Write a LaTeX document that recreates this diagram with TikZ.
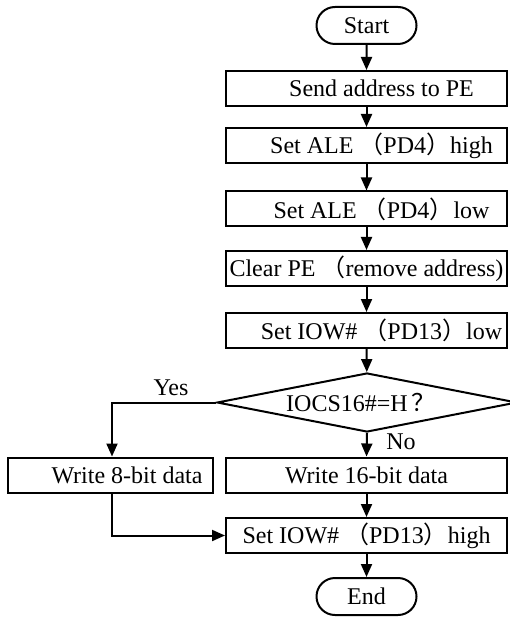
\documentclass[tikz,border=0pt]{standalone}
\usepackage{fontspec}
\setmainfont{Liberation Serif}
\newfontfamily\cjkfont{Noto Sans CJK SC}
\usetikzlibrary{arrows.meta,shapes.geometric,shapes.misc}
\newcommand{\lpar}{{\cjkfont （}}
\newcommand{\rpar}{{\cjkfont ）}}
\newcommand{\qmark}{{\cjkfont ？}}
\begin{document}
\begin{tikzpicture}[x=1pt,y=-1pt,
  line width=2pt,
  every node/.style={font=\fontsize{24}{28}\selectfont},
  proc/.style={draw, rectangle, minimum height=35pt, inner sep=0pt},
  term/.style={draw, rounded rectangle, minimum width=100pt, minimum height=37pt, inner sep=0pt},
  dec/.style={draw, diamond, aspect=5, minimum width=300pt, minimum height=59pt, inner sep=0pt},
  lbl/.style={inner sep=0pt},
  arr/.style={-{Triangle[length=13pt,width=11pt]}}]
\useasboundingbox (0,0) rectangle (510,617);

\node[term] (start) at (366.5,25.5) {Start};
\node[proc, minimum width=281pt] (send) at (366.5,88.5) {\hspace*{30pt}Send address to PE};
\node[proc, minimum width=281pt] (aleh) at (366.5,145.5) {\hspace*{30pt}Set ALE \lpar PD4\rpar high};
\node[proc, minimum width=281pt] (alel) at (366.5,209) {\hspace*{30pt}Set ALE \lpar PD4\rpar low};
\node[proc, minimum width=281pt] (clr) at (366.5,268.5) {Clear PE \lpar remove address)};
\node[proc, minimum width=281pt] (iowl) at (366.5,330.5) {\hspace*{30pt}Set IOW\# \lpar PD13\rpar low};
\node[dec] (dec) at (367,402.5) {IOCS16\#=H\hspace{4pt}\qmark\hspace*{12pt}};
\node[proc, minimum width=205pt] (w8) at (110.5,475) {\hspace*{33pt}Write 8-bit data};
\node[proc, minimum width=281pt] (w16) at (366.5,475) {Write 16-bit data};
\node[proc, minimum width=281pt] (iowh) at (366.5,535.5) {Set IOW\# \lpar PD13\rpar high};
\node[term] (end) at (366.5,596.5) {End};

\node[lbl] (yes) at (171,388) {Yes};
\node[lbl] (no) at (401,442) {No};

\draw[arr] (start) -- (send);
\draw[arr] (send) -- (aleh);
\draw[arr] (aleh) -- (alel);
\draw[arr] (alel) -- (clr);
\draw[arr] (clr) -- (iowl);
\draw[arr] (iowl) -- (dec);
\draw[arr] (dec.south) -- (w16.north);
\draw[arr] (dec.west) -| ([xshift=1.5pt]w8.north);
\draw[arr] ([xshift=1.5pt]w8.south) |- (iowh.west);
\draw[arr] (w16) -- (iowh);
\draw[arr] (iowh) -- (end);
\end{tikzpicture}
\end{document}
